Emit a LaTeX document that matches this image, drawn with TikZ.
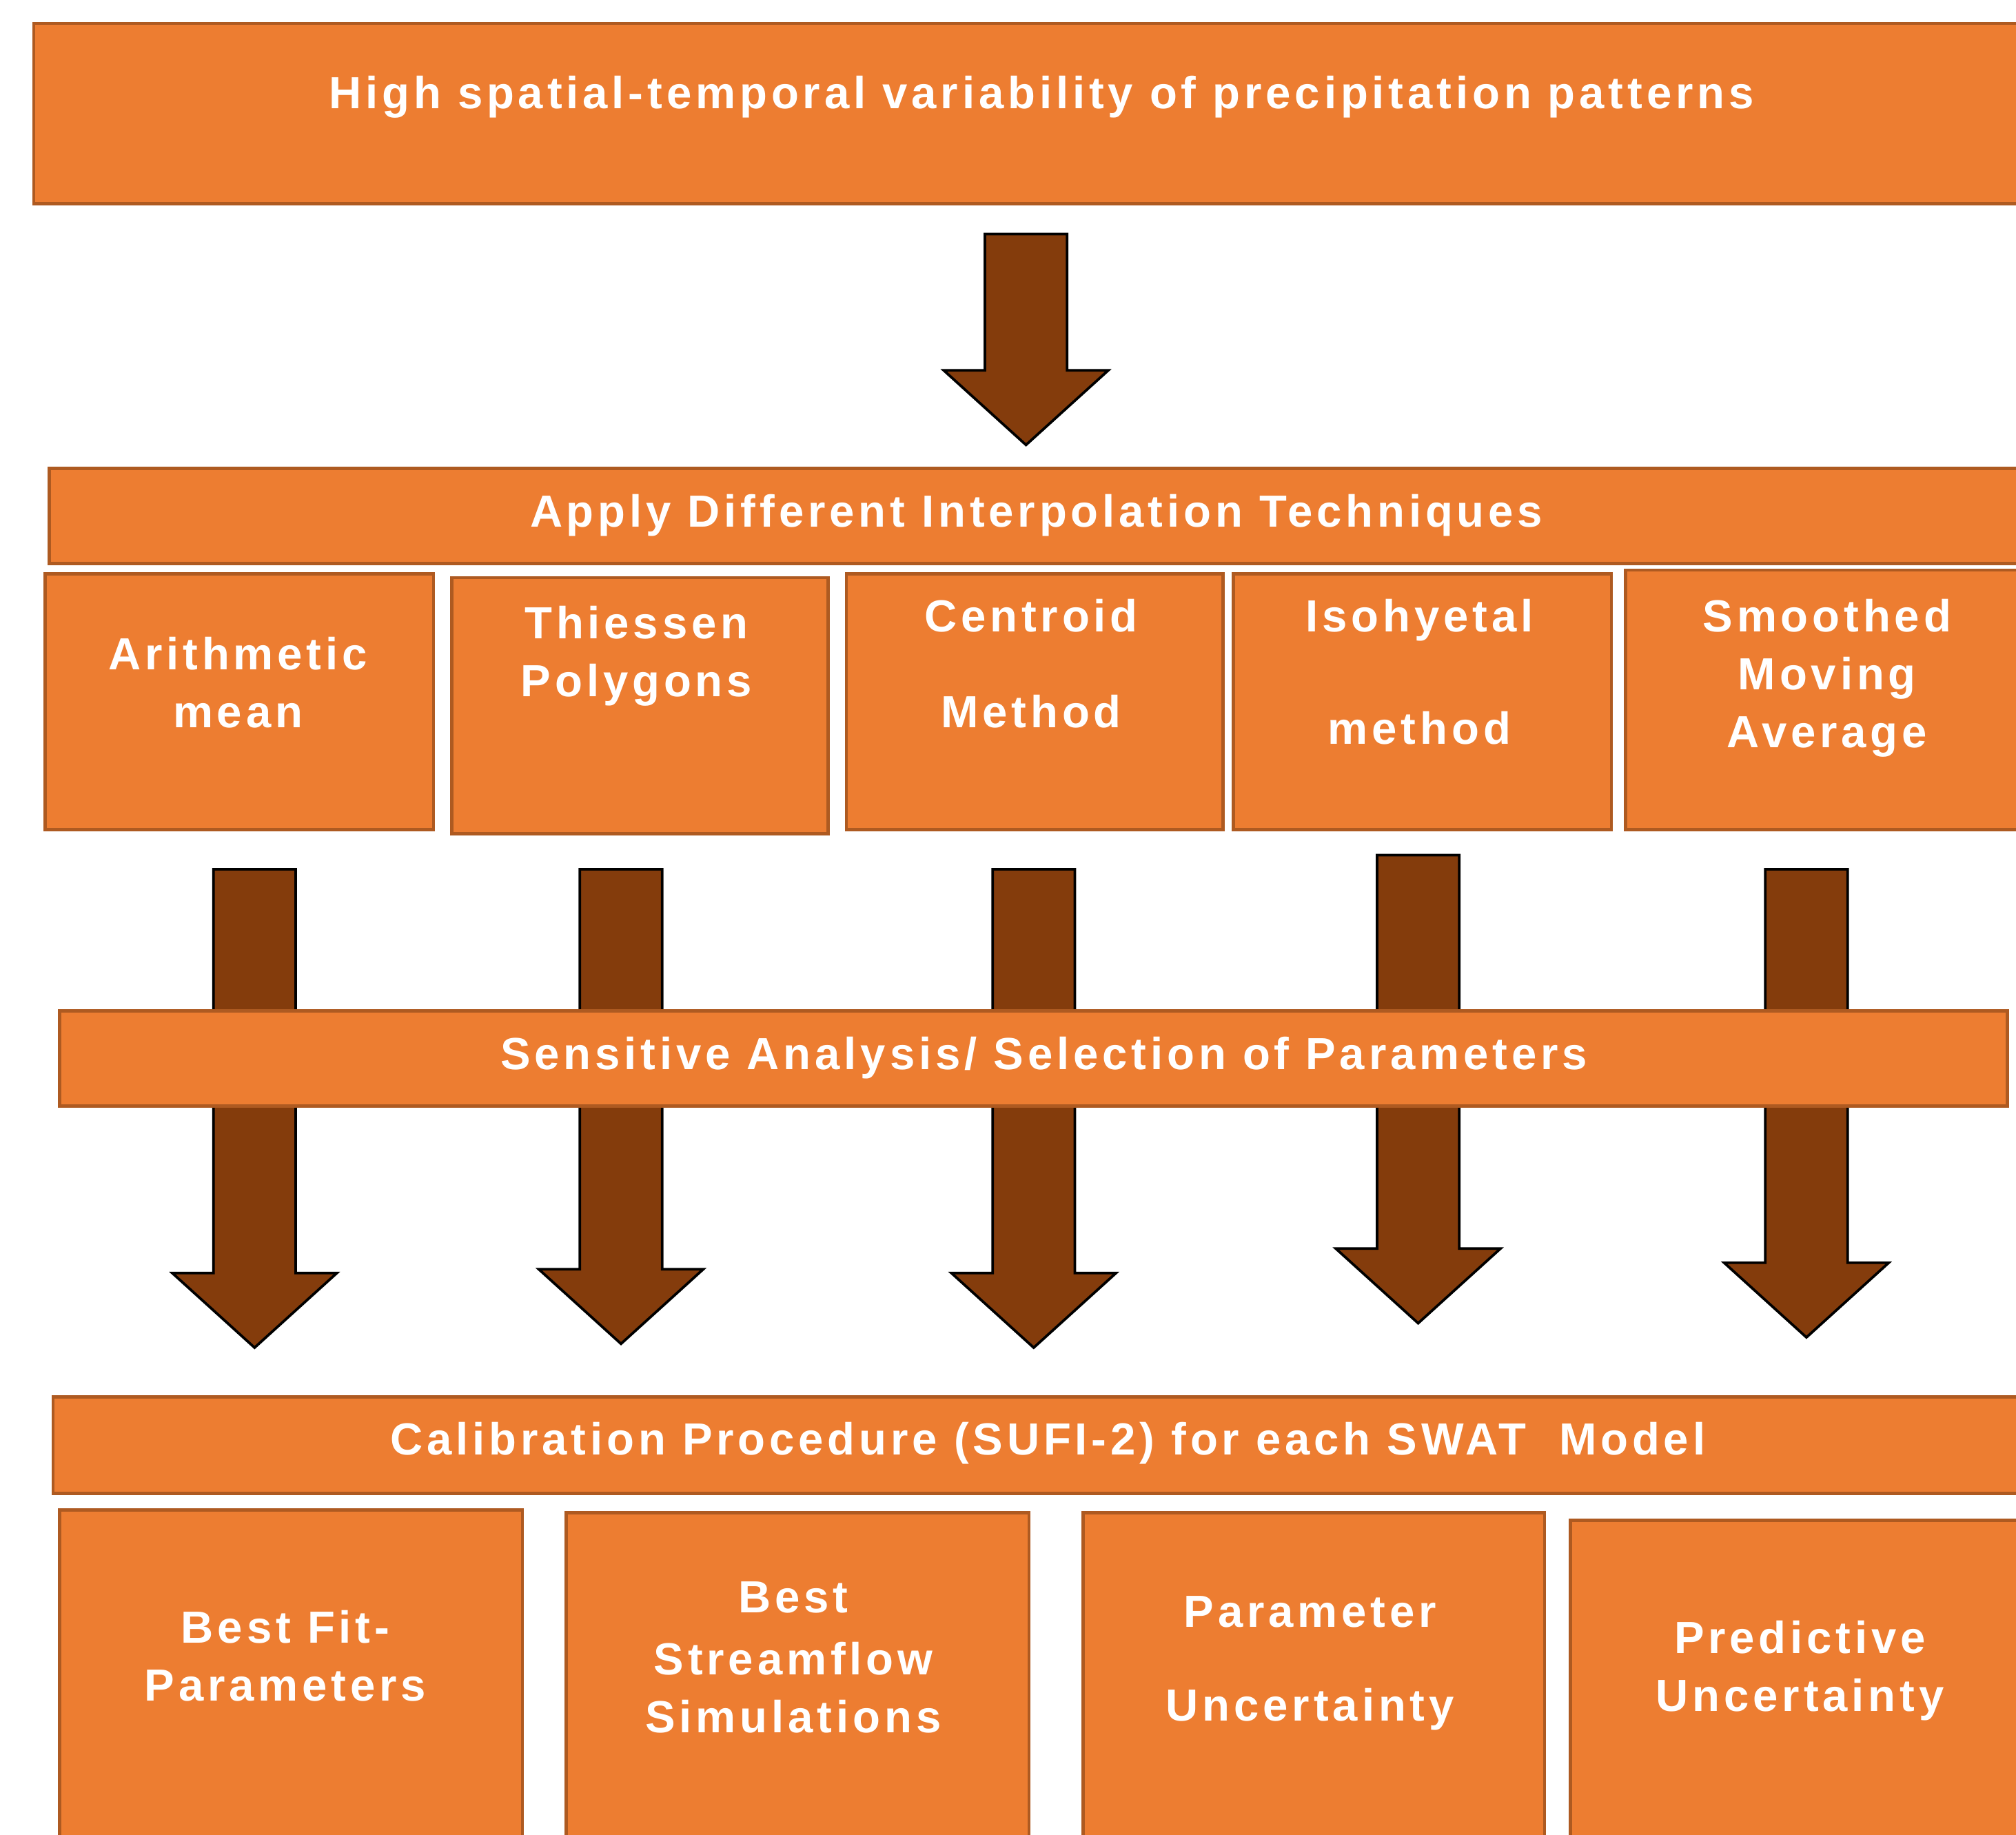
\documentclass[tikz,border=0pt]{standalone}
\usepackage{fontspec}
\usepackage{tikz}
\newfontfamily\boxfont[LetterSpace=9]{Liberation Sans}
\definecolor{boxorange}{HTML}{ED7D31}
\definecolor{boxedge}{HTML}{AE5A21}
\definecolor{arrowbrown}{HTML}{843C0C}
% block arrow: centre x, top of shaft, base of head, tip
\newcommand{\blockarrow}[4]{%
  \draw[arrowbody] (#1-32,#2) -- (#1+32,#2) -- (#1+32,#3) -- (#1+64,#3) -- (#1,#4) -- (#1-64,#3) -- (#1-32,#3) -- cycle;}

\begin{document}
\begin{tikzpicture}[x=1pt, y=-1pt,
  box/.style={draw=boxedge, fill=boxorange, line width=2.5pt, anchor=north west, inner sep=0pt},
  lbl/.style={text=white, font=\boxfont\bfseries\fontsize{35}{45}\selectfont, align=center, anchor=north, inner sep=0pt},
  arrowbody/.style={draw=black, fill=arrowbrown, line width=2pt, line join=miter}]
	\clip (0,0) rectangle (1568,1427);
	\fill[white] (0,0) rectangle (1568,1427);
	% problem
	\node[box, minimum width=1600pt, minimum height=140pt] (problem) at (25,17) {};
	\node[lbl] (problemtxt) at (810,59) {High spatial-temporal variability of precipitation patterns};
	\blockarrow{798}{182}{288}{346}
	% interpolation
	\node[box, minimum width=1600pt, minimum height=74pt] (interp) at (37,363) {};
	\node[lbl] (interptxt) at (806,384) {Apply Different Interpolation Techniques};
	\node[box, minimum width=302pt, minimum height=199pt] (arith) at (34,445) {};
	\node[box, minimum width=293pt, minimum height=199pt] (thies) at (350,448) {};
	\node[box, minimum width=293pt, minimum height=199pt] (centr) at (657,445) {};
	\node[box, minimum width=294pt, minimum height=199pt] (isohy) at (958,445) {};
	\node[box, minimum width=400pt, minimum height=202pt] (smooth) at (1263,442) {};
	\node[lbl] (arithtxt) at (185,495) {Arithmetic\\mean};
	\node[lbl] (thiestxt) at (495,471) {Thiessen\\Polygons};
	\node[lbl] (centrtxt) at (802,466) {Centroid\\[29pt]Method};
	\node[lbl] (isohytxt) at (1104,466) {Isohyetal\\[42pt]method};
	\node[lbl] (smoothtxt) at (1421,466) {Smoothed\\Moving\\Average};
	% arrows through the sensitivity step
	\blockarrow{198}{676}{990}{1048}
	\blockarrow{483}{676}{987}{1045}
	\blockarrow{804}{676}{990}{1048}
	\blockarrow{1103}{665}{971}{1029}
	\blockarrow{1405}{676}{982}{1040}
	\node[box, minimum width=1515pt, minimum height=74pt] (sens) at (45,785) {};
	\node[lbl] (senstxt) at (812,806) {Sensitive Analysis/ Selection of Parameters};
	% calibration
	\node[box, minimum width=1600pt, minimum height=75pt] (calib) at (40,1085) {};
	\node[lbl] (calibtxt) at (815,1106) {Calibration Procedure (SUFI-2) for each SWAT\ \ Model};
	\node[box, minimum width=360pt, minimum height=300pt] (bestfit) at (45,1173) {};
	\node[box, minimum width=360pt, minimum height=300pt] (bestsim) at (439,1175) {};
	\node[box, minimum width=359pt, minimum height=300pt] (paramunc) at (841,1175) {};
	\node[box, minimum width=400pt, minimum height=300pt] (predunc) at (1220,1181) {};
	\node[lbl] (bestfittxt) at (222,1252) {Best Fit-\\Parameters};
	\node[lbl] (bestsimtxt) at (617,1230) {Best\\[3pt]Streamflow\\Simulations};
	\node[lbl] (paramunctxt) at (1019,1241) {Parameter\\[28pt]Uncertainty};
	\node[lbl] (preduncstxt) at (1400,1260) {Predictive\\Uncertainty};
\end{tikzpicture}
\end{document}
